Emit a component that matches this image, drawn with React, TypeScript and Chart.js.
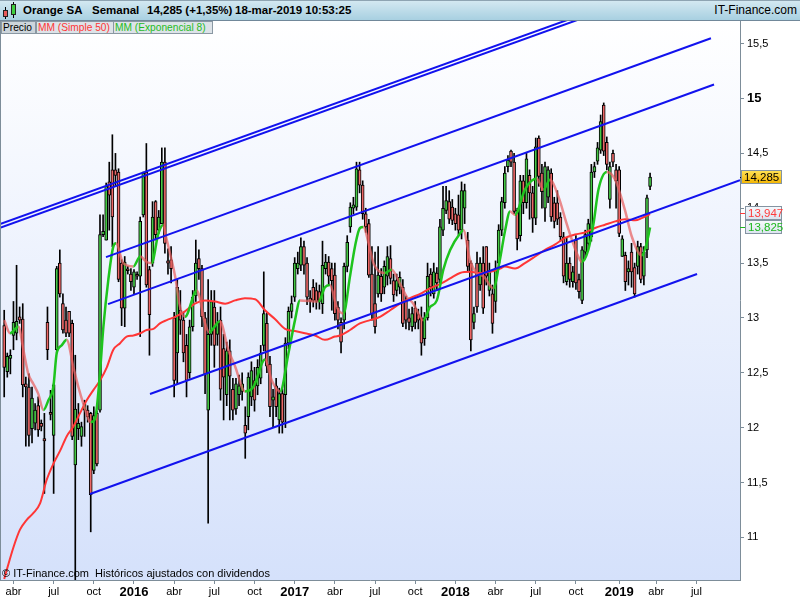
import React, { useEffect, useRef } from "react";
import { Chart, registerables } from "chart.js";

Chart.register(...registerables);

// Weekly candles, index 0 = week of 16-mar-2015, index 209 = week of 18-mar-2019
const openPrices = [
  12.93,12.51,12.63,12.84,12.86,13.01,12.99,12.40,12.37,11.99,
  12.04,12.20,12.04,11.90,12.96,12.14,11.93,12.71,13.50,13.13,
  12.98,13.06,12.95,11.66,11.99,11.92,12.16,12.16,12.13,11.61,
  12.13,12.16,13.76,13.71,14.24,14.35,14.35,14.33,13.50,13.09,
  13.44,13.40,13.28,13.39,13.38,13.94,14.33,13.44,13.50,14.06,
  13.80,13.86,14.42,13.52,13.53,13.00,12.68,13.07,12.98,12.75,
  12.50,12.92,13.20,13.54,13.45,13.00,12.16,12.85,13.10,12.85,
  12.98,12.72,12.30,12.70,12.35,12.17,12.30,12.33,12.02,12.10,
  12.28,12.43,12.38,12.45,12.75,12.95,12.58,12.25,12.38,12.07,
  12.31,12.30,12.77,13.06,13.19,13.45,13.48,13.65,13.50,13.18,
  13.28,13.25,13.24,13.13,13.45,13.51,13.45,13.39,13.10,12.96,
  12.98,13.47,13.83,14.00,14.01,14.35,14.21,13.95,13.86,13.40,
  13.13,13.22,13.38,13.28,13.38,13.54,13.34,13.25,13.28,13.28,
  13.16,13.00,12.92,13.09,13.03,13.00,12.81,13.00,13.40,13.22,
  13.41,13.35,13.80,13.98,14.06,14.01,13.95,13.94,13.80,14.00,
  13.71,13.50,12.96,13.50,13.30,13.50,13.65,13.25,13.22,13.15,
  13.50,13.80,14.05,14.38,14.52,14.42,13.98,13.75,14.25,14.05,
  14.30,14.14,13.91,14.64,14.32,14.00,14.10,14.32,14.05,14.05,
  13.92,13.74,13.33,13.50,13.33,13.71,13.35,13.16,13.60,13.68,
  13.74,14.33,14.43,14.53,14.94,14.60,14.08,14.50,14.35,14.35,
  13.56,13.57,13.42,13.60,13.46,13.47,13.65,13.38,13.62,14.20
];
const highPrices = [
  13.07,12.68,12.71,13.15,13.48,13.10,13.13,12.46,12.49,12.37,
  12.22,12.28,12.07,12.13,13.10,12.34,12.40,13.47,13.62,13.22,
  13.10,13.06,12.98,12.66,12.22,12.05,12.25,12.20,12.14,12.19,
  12.15,13.94,13.94,14.23,14.42,14.67,14.50,14.36,13.53,13.56,
  13.47,13.45,13.44,13.42,13.92,14.33,14.59,13.47,14.06,14.07,
  13.98,14.55,14.55,13.63,13.65,13.05,13.35,13.25,13.05,12.85,
  12.98,13.25,13.71,13.62,13.48,13.05,13.35,13.25,13.25,13.05,
  13.10,12.85,12.78,12.80,12.45,12.45,12.48,12.50,12.19,12.50,
  12.60,12.55,12.62,12.75,13.42,13.05,12.65,12.35,12.45,12.36,
  12.35,12.82,13.10,13.20,13.55,13.60,13.73,13.70,13.55,13.25,
  13.35,13.32,13.30,13.70,13.58,13.56,13.50,13.50,13.15,13.00,
  13.50,13.75,14.05,14.10,14.42,14.42,14.25,14.00,13.90,13.65,
  13.60,13.65,13.45,13.52,13.65,13.66,13.40,13.40,13.42,13.35,
  13.20,13.08,13.10,13.15,13.08,13.10,13.05,13.50,13.45,13.50,
  13.46,13.90,14.20,14.20,14.16,14.08,14.00,14.12,14.24,14.22,
  13.78,13.52,13.10,13.60,13.55,13.65,13.65,13.50,13.30,13.52,
  13.85,14.10,14.38,14.48,14.53,14.50,14.00,14.30,14.30,14.50,
  14.35,14.20,14.64,14.66,14.40,14.42,14.38,14.36,14.10,14.16,
  13.96,13.78,13.73,13.55,13.47,13.75,13.40,13.65,13.80,13.90,
  14.40,14.42,14.60,14.85,14.96,14.65,14.42,14.53,14.40,14.38,
  13.75,13.60,13.52,13.68,13.50,13.70,13.68,13.65,14.12,14.32
];
const lowPrices = [
  12.28,12.46,12.49,12.71,12.80,12.95,12.28,11.83,11.83,11.86,
  11.98,11.92,11.97,11.40,12.62,12.07,11.40,12.68,13.19,12.86,
  12.83,12.83,11.89,10.55,11.89,11.83,11.92,12.05,11.05,11.58,
  11.65,12.14,13.74,13.71,13.80,13.65,14.20,13.33,12.93,12.92,
  13.40,13.25,13.22,13.35,12.83,13.92,13.28,12.66,13.47,13.71,
  13.77,13.86,13.59,13.40,13.32,12.28,12.40,12.85,12.60,12.28,
  12.45,12.88,13.15,13.35,12.92,12.31,11.13,12.75,12.55,12.75,
  12.25,12.07,12.20,12.07,12.07,12.12,12.20,12.25,11.72,11.98,
  12.20,12.15,12.30,12.40,12.70,12.50,12.10,12.00,12.10,11.95,
  11.95,12.00,12.72,13.00,13.15,13.40,13.43,13.40,13.12,13.05,
  13.10,13.08,13.08,13.04,13.40,13.30,13.07,12.98,12.90,12.68,
  12.90,13.42,13.78,13.95,13.98,14.14,13.90,13.78,13.37,12.98,
  12.86,13.19,13.15,13.22,13.30,13.31,13.15,13.20,13.22,12.92,
  12.90,12.89,12.88,12.90,12.90,12.66,12.75,12.98,13.20,13.18,
  13.25,13.30,13.75,13.95,13.86,13.85,13.80,13.76,13.72,13.86,
  13.42,12.70,12.90,13.05,13.25,13.04,13.30,13.20,12.86,13.05,
  13.45,13.75,14.00,14.33,14.38,13.95,13.62,13.70,13.95,14.00,
  13.90,13.78,13.85,14.20,14.00,13.88,14.05,13.88,13.82,13.85,
  13.70,13.32,13.30,13.28,13.28,13.26,13.18,13.13,13.55,13.62,
  13.70,14.28,14.40,14.50,14.48,14.35,14.00,14.38,14.00,13.74,
  13.56,13.25,13.30,13.28,13.19,13.40,13.32,13.30,13.55,14.17
];
const closePrices = [
  12.55,12.65,12.66,12.96,12.97,12.98,12.39,12.37,11.93,12.27,
  12.16,11.98,12.01,11.88,12.71,12.12,12.39,13.45,13.22,12.89,
  12.86,12.86,11.92,12.17,12.04,12.01,12.22,12.10,11.39,12.11,
  11.67,13.76,13.79,14.20,14.12,13.92,14.30,13.35,13.09,13.51,
  13.43,13.33,13.42,13.38,13.88,14.32,13.30,13.03,13.92,13.76,
  13.92,14.42,13.68,13.50,13.45,12.43,13.28,12.98,12.68,12.43,
  12.92,13.19,13.50,13.45,13.01,12.49,12.85,13.15,12.75,12.95,
  12.35,12.46,12.70,12.47,12.16,12.40,12.38,12.40,11.95,12.46,
  12.52,12.25,12.55,12.68,13.04,12.56,12.19,12.28,12.19,12.31,
  12.05,12.77,13.06,13.13,13.50,13.50,13.65,13.48,13.19,13.15,
  13.16,13.15,13.15,13.48,13.51,13.38,13.34,13.04,12.98,12.78,
  13.47,13.69,14.01,14.03,14.36,14.21,13.95,13.83,13.39,13.04,
  12.92,13.39,13.22,13.47,13.56,13.36,13.21,13.34,13.37,12.95,
  12.98,12.96,13.04,12.96,12.98,12.77,13.00,13.38,13.28,13.42,
  13.32,13.83,14.00,14.07,13.90,13.89,13.86,13.80,14.16,14.16,
  13.47,12.80,13.04,13.10,13.50,13.09,13.38,13.43,12.95,13.45,
  13.80,14.06,14.32,14.44,14.42,13.97,13.72,14.25,14.05,14.45,
  14.14,13.91,14.56,14.29,14.15,14.38,14.35,13.92,13.88,13.90,
  13.74,13.38,13.50,13.35,13.42,13.32,13.24,13.62,13.76,13.86,
  14.33,14.38,14.55,14.79,14.52,14.40,14.38,14.42,14.25,13.77,
  13.72,13.33,13.45,13.42,13.22,13.65,13.35,13.60,14.095,14.285
];

// Moving averages (week index, value)
const smaWeeks = [0,0.8,3,5.1,7.3,9.4,11.6,13.7,15.9,18.1,20.2,22.4,24.5,26.7,28.8,31,33.2,35.3,37.5,39.6,41.8,44,46.1,48.3,50.4,52.6,55.3,58.5,61.7,65,68.2,71.5,74.7,77.9,81.2,84.4,87.6,90.9,94.1,97.3,100.6,103.8,107,108.7,111.9,115.1,118.4,121.6,124.9,128.1,131.3,134.6,137.8,141.1,144.3,147.5,150.8,154,157.3,160.5,162,165.3,168.5,171.8,175,178.3,181.5,184.7,188,191.2,194.4,197.7,200.9,204.2,206.3,209];
const smaValues = [10.62,10.70,10.91,11.07,11.16,11.22,11.31,11.52,11.67,11.79,11.92,12.01,12.13,12.25,12.34,12.43,12.55,12.71,12.77,12.83,12.84,12.86,12.89,12.90,12.95,12.98,13.01,13.06,13.13,13.16,13.15,13.13,13.16,13.18,13.17,13.07,12.99,12.90,12.88,12.86,12.84,12.80,12.83,12.84,12.89,12.95,12.98,13.01,13.07,13.13,13.18,13.22,13.27,13.31,13.36,13.41,13.42,13.41,13.42,13.45,13.47,13.45,13.50,13.56,13.62,13.67,13.73,13.76,13.78,13.82,13.85,13.88,13.90,13.89,13.91,13.947];

const emaWeeks = [0,1.9,4.6,6.2,7.8,9.4,11,12.7,14.3,15.9,17,18.6,20.2,22.4,24,25.6,28,29.4,30.8,32.1,33.7,35.3,36.2,38.5,41.8,44,46.1,47.7,49.9,51.5,52.2,55.3,56.9,58.5,62.3,65,66.3,69.8,72.5,74.7,77.9,80.6,84.4,86.6,89.3,92,94.1,95.7,101.7,103.8,105.4,107.6,109.8,111.9,113.5,115.1,116.2,118.4,119.5,121.6,123.2,125.4,128.1,130.3,132.4,134.6,135.6,137.8,140,142.1,144.3,147.5,148.6,150.7,152.9,155.1,158.3,160.4,162.1,163.7,165.3,168.5,172.3,174.5,176.6,179.3,182,185.3,186.9,189,190.7,192.3,195,197.7,200.9,203.1,206.3,207.9,209];
const emaValues = [12.98,12.86,12.92,12.71,12.49,12.40,12.31,12.16,12.25,12.37,12.68,12.75,12.80,12.55,12.37,12.22,12.05,12.08,12.43,12.92,13.35,13.65,13.68,13.50,13.47,13.56,13.51,13.50,13.77,13.85,13.76,13.38,13.10,13.01,13.25,12.95,12.87,12.97,12.71,12.56,12.33,12.37,12.62,12.43,12.33,12.68,12.98,13.16,13.15,13.28,13.30,13.10,13.04,13.38,13.65,13.82,13.83,13.62,13.50,13.42,13.41,13.44,13.31,13.19,13.13,13.01,12.98,13.10,13.16,13.44,13.62,13.77,13.80,13.53,13.41,13.38,13.27,13.53,13.80,13.97,13.94,14.17,14.27,14.17,14.26,14.11,13.86,13.59,13.51,13.62,13.86,14.17,14.33,14.26,13.98,13.74,13.57,13.68,13.825];

// Trend channel lines (week index, price)
const channelLow = [[27.77, 11.395], [224.2, 13.40]];
const channelMid = [[47.18, 12.306], [238.1, 14.255]];
const channelUpper = [[33.6, 13.126], [229.7, 15.128]];
const channelTop = [[32.94, 13.554], [228.7, 15.55]];
const outerLine1 = [[-1.36, 13.855], [190, 15.795]];
const outerLine2 = [[-1.36, 13.822], [190, 15.762]];

// Axis ticks
const monthTickWeeks = [3,16,29,42,55,68,81,94,107,120,133,146,159,172,185,199,211,224];
const monthTickLabels = ["abr","jul","oct","2016","abr","jul","oct","2017","abr","jul","oct","2018","abr","jul","oct","2019","abr","jul"];
const priceTicks = [11,11.5,12,12.5,13,13.5,14,14.5,15,15.5];

const FONT = '"Liberation Sans", Arial, Helvetica, sans-serif';

export default function App() {
  const canvasRef = useRef<HTMLCanvasElement>(null);

  useEffect(() => {
    document.body.style.margin = "0";
    const canvas = canvasRef.current;
    if (!canvas) return;
    Chart.defaults.font.family = FONT;

    const upColor = "#45c845";
    const downColor = "#ec6767";
    const wicks = openPrices.map((_, i) => ({ x: i, y: [lowPrices[i], highPrices[i]] }));
    const bodies = openPrices.map((o, i) => ({ x: i, y: [o, closePrices[i]] }));
    const bodyColors = openPrices.map((o, i) => (closePrices[i] >= o ? upColor : downColor));
    const toXY = (ws: number[], vs: number[]) => ws.map((w, i) => ({ x: w, y: vs[i] }));
    const trend = (pts: number[][], label: string) => ({
      type: "line" as const,
      label,
      data: pts.map((p) => ({ x: p[0], y: p[1] })),
      borderColor: "#1212ee",
      borderWidth: 2,
      pointRadius: 0,
      tension: 0,
      order: 0,
    });

    const fmt = (v: number) => v.toFixed(3).replace(".", ",");

    const decor = {
      id: "decor",
      beforeDraw(chart: any) {
        const { ctx, chartArea: a } = chart;
        ctx.save();
        ctx.fillStyle = "#ffffff";
        ctx.fillRect(0, 0, chart.width, chart.height);
        const g = ctx.createLinearGradient(0, a.top, 0, a.bottom);
        g.addColorStop(0, "#ffffff");
        g.addColorStop(1, "#d5e1fb");
        ctx.fillStyle = g;
        ctx.fillRect(a.left, a.top, a.right - a.left, a.bottom - a.top);
        ctx.restore();
      },
      afterDraw(chart: any) {
        const { ctx, chartArea: a } = chart;
        const ys = chart.scales.y;
        ctx.save();
        ctx.strokeStyle = "#7d8d99";
        ctx.lineWidth = 1;
        ctx.beginPath();
        ctx.moveTo(a.left + 0.5, a.top);
        ctx.lineTo(a.left + 0.5, a.bottom);
        ctx.stroke();

        const badge = (yc: number, text: string, left: number, width: number, bg: any, fg: string, tick: string) => {
          const h = 14;
          const top = Math.round(yc - h / 2);
          ctx.fillStyle = tick;
          ctx.fillRect(a.right, Math.round(yc), 5, 1);
          ctx.fillStyle = bg;
          ctx.fillRect(left, top, width, h);
          ctx.strokeStyle = "#8494a2";
          ctx.strokeRect(left + 0.5, top + 0.5, width - 1, h - 1);
          ctx.fillStyle = fg;
          ctx.font = "11.5px " + FONT;
          ctx.textBaseline = "middle";
          ctx.textAlign = "left";
          ctx.fillText(text, left + 3, top + h / 2 + 0.5);
        };

        const lastClose = closePrices[closePrices.length - 1];
        const lastSma = smaValues[smaValues.length - 1];
        const lastEma = emaValues[emaValues.length - 1];
        const yP = ys.getPixelForValue(lastClose);
        let yS = ys.getPixelForValue(lastSma);
        let yE = ys.getPixelForValue(lastEma);
        if (Math.abs(yE - yS) < 14) {
          const mid = (yS + yE) / 2 - 1;
          yS = mid - 7;
          yE = mid + 7;
        }
        const mkGrad = (top: number, c1: string, c2: string) => {
          const gg = ctx.createLinearGradient(0, top - 7, 0, top + 7);
          gg.addColorStop(0, c1);
          gg.addColorStop(1, c2);
          return gg;
        };
        badge(yS, fmt(lastSma), 745, 37, mkGrad(yS, "#f8fafd", "#dbe3ef"), "#ff3b3b", "#ff3b3b");
        badge(yE, fmt(lastEma), 745, 37, mkGrad(yE, "#f8fafd", "#dbe3ef"), "#1db81d", "#1db81d");
        badge(yP, fmt(lastClose), 741, 41, mkGrad(yP, "#ffe45a", "#f3b400"), "#000000", "#000000");
        ctx.restore();
      },
    };

    const chart = new Chart(canvas, {
      type: "bar",
      data: {
        datasets: [
          trend(channelLow, "Canal inferior"),
          trend(channelMid, "Canal medio"),
          trend(channelUpper, "Canal superior"),
          trend(channelTop, "Canal alto"),
          trend(outerLine1, "Linea 1"),
          trend(outerLine2, "Linea 2"),
          {
            type: "line",
            label: "MM (Exponencial 8)",
            data: toXY(emaWeeks, emaValues),
            borderColor: "#1ec41e",
            borderWidth: 2.5,
            pointRadius: 0,
            cubicInterpolationMode: "monotone",
            segment: {
              borderColor: (c: any) =>
                c.p1.parsed.y >= c.p0.parsed.y ? "#1ec41e" : "rgba(232,96,96,0.72)",
            },
            order: 1,
          } as any,
          {
            type: "line",
            label: "MM (Simple 50)",
            data: toXY(smaWeeks, smaValues),
            borderColor: "#ff3636",
            borderWidth: 2,
            pointRadius: 0,
            cubicInterpolationMode: "monotone",
            order: 2,
          } as any,
          {
            type: "bar",
            label: "Precio",
            data: bodies,
            backgroundColor: bodyColors,
            borderColor: "#000000",
            borderWidth: 1,
            borderSkipped: false,
            barThickness: 3,
            minBarLength: 2,
            grouped: false,
            order: 3,
          } as any,
          {
            type: "bar",
            label: "Mechas",
            data: wicks,
            backgroundColor: "#000000",
            borderWidth: 0,
            barThickness: 1,
            grouped: false,
            order: 4,
          } as any,
        ],
      },
      options: {
        responsive: false,
        animation: false,
        devicePixelRatio: 1,
        events: [],
        layout: { padding: { top: 20, left: 0, right: 0, bottom: 0 } },
        plugins: { legend: { display: false }, tooltip: { enabled: false } },
        scales: {
          x: {
            type: "linear",
            position: "bottom",
            min: -1.36,
            max: 238.1,
            offset: false,
            afterBuildTicks: (s: any) => {
              s.ticks = monthTickWeeks.map((v) => ({ value: v }));
            },
            afterFit: (s: any) => {
              s.height = 20;
            },
            grid: { display: true, drawOnChartArea: false, drawTicks: true, tickLength: 4, color: "#7d8d99", offset: false },
            border: { display: true, color: "#7d8d99" },
            ticks: {
              autoSkip: false,
              maxRotation: 0,
              minRotation: 0,
              padding: 1,
              color: "#000000",
              callback: (_v: any, i: number) => monthTickLabels[i],
              font: (c: any) =>
                /^\d{4}$/.test(monthTickLabels[c.index] || "")
                  ? { family: FONT, size: 13, weight: "bold" }
                  : { family: FONT, size: 11 },
            },
          },
          y: {
            type: "linear",
            position: "right",
            min: 10.611,
            max: 15.716,
            afterBuildTicks: (s: any) => {
              s.ticks = priceTicks.map((v) => ({ value: v }));
            },
            afterFit: (s: any) => {
              s.width = 60;
            },
            grid: { display: true, drawOnChartArea: false, drawTicks: true, tickLength: 4, color: "#7d8d99" },
            border: { display: true, color: "#7d8d99" },
            ticks: {
              padding: 3,
              color: "#000000",
              callback: (v: any) => String(v).replace(".", ","),
              font: (c: any) =>
                c.tick && c.tick.value % 5 === 0
                  ? { family: FONT, size: 13, weight: "bold" }
                  : { family: FONT, size: 11 },
            },
          },
        },
      } as any,
      plugins: [decor],
    });

    return () => chart.destroy();
  }, []);

  const headerText: React.CSSProperties = {
    position: "absolute",
    top: 0,
    height: 20,
    lineHeight: "20px",
    fontFamily: FONT,
    fontSize: 11.5,
    fontWeight: "bold",
    color: "#000",
    whiteSpace: "pre",
  };
  const legendBox: React.CSSProperties = {
    position: "absolute",
    top: 21,
    height: 13,
    boxSizing: "border-box",
    border: "1px solid #8a98a3",
    background: "#dde3e8",
    fontFamily: FONT,
    fontSize: 10.2,
    lineHeight: "11px",
    paddingLeft: 1,
    whiteSpace: "pre",
  };

  return (
    <div style={{ position: "relative", width: 800, height: 600, overflow: "hidden", background: "#fff" }}>
      <canvas ref={canvasRef} width={800} height={600} style={{ display: "block", width: 800, height: 600 }} />
      <div
        style={{
          position: "absolute",
          left: 0,
          top: 0,
          width: 800,
          height: 21,
          boxSizing: "border-box",
          background: "linear-gradient(#d3e8f1, #a8d0e1)",
          borderTop: "1px solid #8ea4b2",
          borderBottom: "1px solid #71889a",
        }}
      />
      {/* small candle icon */}
      <div style={{ position: "absolute", left: 5, top: 7, width: 1, height: 12, background: "#000" }} />
      <div style={{ position: "absolute", left: 3, top: 10, width: 5, height: 7, boxSizing: "border-box", border: "1px solid #222", background: "#e85a5a" }} />
      <div style={{ position: "absolute", left: 13, top: 2, width: 1, height: 16, background: "#000" }} />
      <div style={{ position: "absolute", left: 11, top: 4, width: 5, height: 11, boxSizing: "border-box", border: "1px solid #222", background: "#3fcf3f" }} />
      <div style={{ ...headerText, left: 23 }}>Orange SA</div>
      <div style={{ ...headerText, left: 92 }}>Semanal</div>
      <div style={{ ...headerText, left: 147 }}>14,285 (+1,35%)</div>
      <div style={{ ...headerText, left: 235 }}>18-mar-2019 10:53:25</div>
      <div style={{ ...headerText, right: 3, fontWeight: "normal", fontSize: 12 }}>IT-Finance.com</div>
      <div style={{ ...legendBox, left: 1, width: 35, background: "#cdd5db", color: "#000" }}>Precio</div>
      <div style={{ ...legendBox, left: 36, width: 78, color: "#ff3535" }}>MM (Simple 50)</div>
      <div style={{ ...legendBox, left: 113, width: 100, color: "#1fbb1f" }}>MM (Exponencial 8)</div>
      <div
        style={{
          position: "absolute",
          left: 2,
          top: 567,
          fontFamily: FONT,
          fontSize: 11,
          lineHeight: "13px",
          color: "#000",
          whiteSpace: "pre",
        }}
      >
        © IT-Finance.com  Históricos ajustados con dividendos
      </div>
    </div>
  );
}
